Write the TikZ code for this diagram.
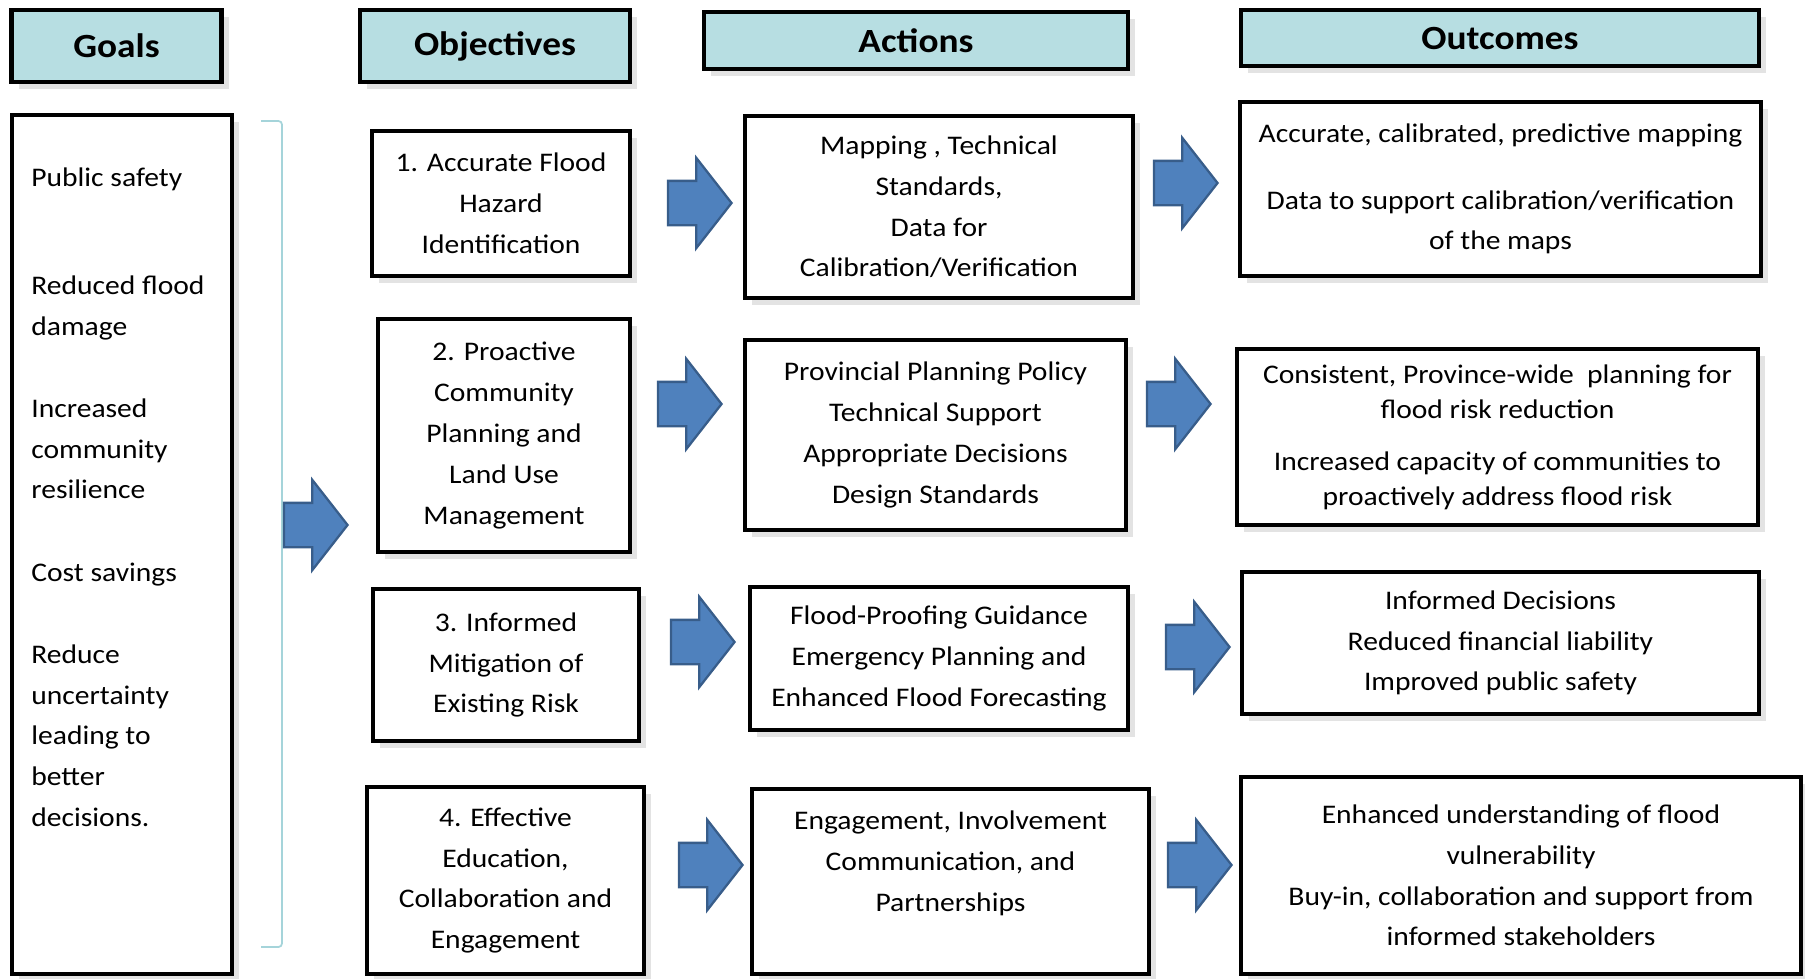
\documentclass[tikz,border=0pt]{standalone}
\usepackage{fontspec}
\setmainfont{Carlito}[FakeStretch=1.1]
\usepackage{tikz}
\usetikzlibrary{shapes.arrows, shadows}
\definecolor{headteal}{RGB}{183,222,226}
\definecolor{arrowblue}{RGB}{79,129,189}
\definecolor{arrowedge}{RGB}{56,93,138}
\definecolor{bracketteal}{RGB}{165,212,218}
\newcommand{\bodyfont}{\fontsize{15.3pt}{23.2pt}\selectfont}
\newcommand{\tightfont}{\fontsize{15.3pt}{19.9pt}\selectfont}
\newcommand{\headfont}{\fontsize{19.3pt}{24pt}\selectfont\bfseries}

\begin{document}
\begin{tikzpicture}[
    card/.style={draw=black, line width=2.4pt, fill=white, align=center,
                 font=\bodyfont, inner sep=0pt,
                 drop shadow={shadow xshift=4pt, shadow yshift=-4pt, opacity=0.22}},
    header/.style={card, fill=headteal, font=\headfont},
    blockarrow/.style={single arrow, draw=arrowedge, fill=arrowblue,
                       line width=1.3pt, minimum height=1.27cm,
                       inner xsep=0pt, inner ysep=0.42cm,
                       single arrow head extend=0.46cm, single arrow tip angle=104,
                       anchor=tip},
  ]
    \useasboundingbox (0,0) rectangle (36.1,-19.56);

    % Column headers
    \node[header, minimum width=4.2cm, minimum height=1.44cm] (goalsh) at (2.33,-0.92) {Goals};
    \node[header, minimum width=5.4cm, minimum height=1.44cm] (objh) at (9.90,-0.92) {Objectives};
    \node[header, minimum width=8.48cm, minimum height=1.14cm] (acth) at (18.32,-0.81) {Actions};
    \node[header, minimum width=10.36cm, minimum height=1.12cm] (outh) at (30.0,-0.76) {Outcomes};

    % Goals
    \node[card, minimum width=4.4cm, minimum height=17.18cm] (goals) at (2.44,-10.89) {};
    \node[font=\bodyfont, align=left, anchor=north west, inner sep=0pt] (goalstxt) at (0.62,-3.35) {
      Public safety\\[1.34cm]
      Reduced flood\\damage\\[0.83cm]
      Increased\\community\\resilience\\[0.83cm]
      Cost savings\\[0.83cm]
      Reduce\\uncertainty\\leading to\\better\\decisions.
    };
    \draw[bracketteal, line width=1pt, rounded corners=2pt]
      (5.22,-2.42) -- (5.64,-2.42) -- (5.64,-18.94) -- (5.22,-18.94);
    \node[blockarrow] (goalsarr) at (6.98,-10.5) {};

    % Objectives
    \node[card, minimum width=5.16cm, minimum height=2.9cm] (obj1) at (10.02,-4.07)
      {1. Accurate Flood\\Hazard\\Identification};
    \node[card, minimum width=5.04cm, minimum height=4.66cm] (obj2) at (10.08,-8.71)
      {2. Proactive\\Community\\Planning and\\Land Use\\Management};
    \node[card, minimum width=5.32cm, minimum height=3.04cm] (obj3) at (10.12,-13.3)
      {3. Informed\\Mitigation of\\Existing Risk};
    \node[card, minimum width=5.54cm, minimum height=3.74cm] (obj4) at (10.11,-17.61)
      {4. Effective\\Education,\\Collaboration and\\Engagement};

    % Objectives to actions
    \node[blockarrow] (oa1) at (14.66,-4.06) {};
    \node[blockarrow] (oa2) at (14.46,-8.08) {};
    \node[blockarrow] (oa3) at (14.72,-12.84) {};
    \node[blockarrow] (oa4) at (14.88,-17.3) {};

    % Actions
    \node[card, minimum width=7.76cm, minimum height=3.64cm] (act1) at (18.78,-4.14)
      {Mapping , Technical\\Standards,\\Data for\\Calibration/Verification};
    \node[card, minimum width=7.62cm, minimum height=3.8cm] (act2) at (18.71,-8.7)
      {Provincial Planning Policy\\Technical Support\\Appropriate Decisions\\Design Standards};
    \node[card, minimum width=7.56cm, minimum height=2.86cm] (act3) at (18.78,-13.17)
      {Flood-Proofing Guidance\\Emergency Planning and\\Enhanced Flood Forecasting};
    \node[card, minimum width=7.94cm, minimum height=3.7cm] (act4) at (19.01,-17.63)
      {Engagement, Involvement\\Communication, and\\Partnerships\\~};

    % Actions to outcomes
    \node[blockarrow] (ao1) at (24.38,-3.66) {};
    \node[blockarrow] (ao2) at (24.24,-8.08) {};
    \node[blockarrow] (ao3) at (24.62,-12.94) {};
    \node[blockarrow] (ao4) at (24.66,-17.3) {};

    % Outcomes
    \node[card, minimum width=10.42cm, minimum height=3.48cm] (out1) at (30.01,-3.78)
      {Accurate, calibrated, predictive mapping\\[0.52cm]
       Data to support calibration/verification\\of the maps};
    \node[card, font=\tightfont, minimum width=10.42cm, minimum height=3.52cm] (out2) at (29.95,-8.74)
      {Consistent, Province-wide\ \ planning for\\flood risk reduction\\[0.34cm]
       Increased capacity of communities to\\proactively address flood risk};
    \node[card, minimum width=10.34cm, minimum height=2.84cm] (out3) at (30.01,-12.86)
      {Informed Decisions\\Reduced financial liability\\Improved public safety};
    \node[card, minimum width=11.2cm, minimum height=3.94cm] (out4) at (30.42,-17.51)
      {Enhanced understanding of flood\\vulnerability\\Buy-in, collaboration and support from\\informed stakeholders};
  \end{tikzpicture}
\end{document}
